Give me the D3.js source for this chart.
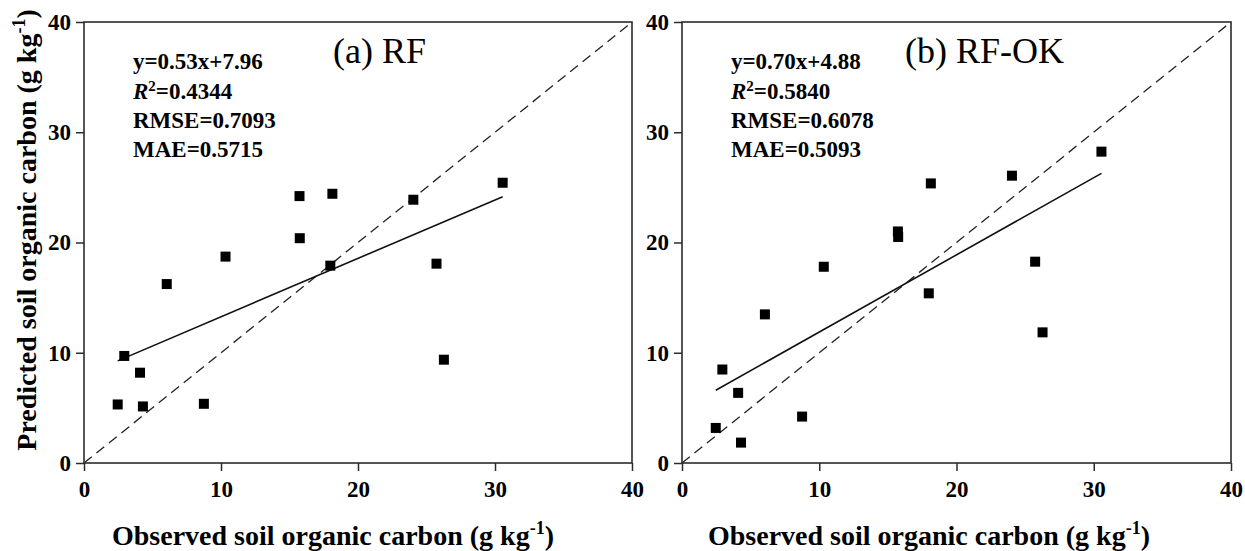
<!DOCTYPE html>
<html>
<head>
<meta charset="utf-8">
<script src="https://cdn.jsdelivr.net/npm/d3@7"></script>
<style>
  html, body { margin: 0; padding: 0; background: #fff; }
  svg { display: block; font-family: "Liberation Serif", "Times New Roman", Times, serif; }
</style>
</head>
<body>
<svg id="chart" width="1245" height="551"></svg>
<script>
// ---- Data ----
const observed      = [2.46, 2.94, 4.09, 4.30, 6.04, 8.75, 10.33, 15.73, 15.75, 17.98, 18.13, 24.04, 25.73, 26.27, 30.56];
const predictedRF   = [5.31, 9.71, 8.19, 5.13, 16.23, 5.37, 18.72, 24.21, 20.39, 17.90, 24.42, 23.88, 18.08, 9.37, 25.42];
const predictedRFOK = [3.18, 8.48, 6.36, 1.85, 13.48, 4.21, 17.80, 21.00, 20.50, 15.39, 25.36, 26.06, 18.26, 11.85, 28.24];
const xTicks = [0, 10, 20, 30, 40];
const yTicks = [0, 10, 20, 30, 40];
const panelTitles = ["(a) RF", "(b) RF-OK"];
const fitSlope = [0.53, 0.70];
const fitIntercept = [7.96, 4.88];
const fitLabels = ["y=0.53x+7.96", "y=0.70x+4.88"];
const r2Labels = ["0.4344", "0.5840"];
const rmseLabels = ["0.7093", "0.6078"];
const maeLabels = ["0.5715", "0.5093"];
const xTitle = "Observed soil organic carbon (g kg";
const yTitle = "Predicted soil organic carbon (g kg";

// ---- Layout ----
const svg = d3.select("#chart");
svg.append("rect").attr("width", 1245).attr("height", 551).attr("fill", "#fff");

const panels = [
  { x0: 84,  x1: 632,  pred: predictedRF,   titleX: 333, xTitleCx: 333 },
  { x0: 682, x1: 1231, pred: predictedRFOK, titleX: 905, xTitleCx: 929 }
];
const yTop = 22, yBot = 463;
const frameColor = "#2b2b2b";

panels.forEach((p, i) => {
  const x = d3.scaleLinear().domain([0, 40]).range([p.x0, p.x1]);
  const y = d3.scaleLinear().domain([0, 40]).range([yBot, yTop]);
  const g = svg.append("g");

  // 1:1 dashed line
  g.append("line")
    .attr("x1", x(0)).attr("y1", y(0)).attr("x2", x(40)).attr("y2", y(40))
    .attr("stroke", "#222").attr("stroke-width", 1.3).attr("stroke-dasharray", "10,6");

  // regression line
  const xmin = d3.min(observed), xmax = d3.max(observed);
  g.append("line")
    .attr("x1", x(xmin)).attr("y1", y(fitSlope[i] * xmin + fitIntercept[i]))
    .attr("x2", x(xmax)).attr("y2", y(fitSlope[i] * xmax + fitIntercept[i]))
    .attr("stroke", "#111").attr("stroke-width", 1.6);

  // points
  const s = 10;
  g.selectAll("rect.pt").data(observed.map((o, k) => [o, p.pred[k]]))
    .enter().append("rect").attr("class", "pt")
    .attr("x", d => x(d[0]) - s / 2).attr("y", d => y(d[1]) - s / 2)
    .attr("width", s).attr("height", s).attr("fill", "#000");

  // frame
  g.append("rect")
    .attr("x", p.x0).attr("y", yTop).attr("width", p.x1 - p.x0).attr("height", yBot - yTop)
    .attr("fill", "none").attr("stroke", frameColor).attr("stroke-width", 1.6);

  // axes
  const ax = g.append("g").attr("transform", `translate(0,${yBot})`)
    .call(d3.axisBottom(x).tickValues(xTicks).tickSize(8).tickPadding(10).tickFormat(d3.format("d")));
  const ay = g.append("g").attr("transform", `translate(${p.x0},0)`)
    .call(d3.axisLeft(y).tickValues(yTicks).tickSize(8).tickPadding(5).tickFormat(d3.format("d")));
  [ax, ay].forEach(a => {
    a.select(".domain").remove();
    a.selectAll(".tick line").attr("stroke", frameColor).attr("stroke-width", 1.5);
    a.selectAll(".tick text").attr("fill", "#000").style("font-family", '"Liberation Serif", "Times New Roman", serif')
      .style("font-size", "23px").style("font-weight", "bold");
  });

  // panel title
  g.append("text").attr("x", p.titleX).attr("y", 63)
    .style("font-size", "36px").attr("fill", "#000").text(panelTitles[i]);

  // stats
  const sx = p.x0 + 49;
  const st = g.append("g").style("font-size", "23px").style("font-weight", "bold").attr("fill", "#000");
  st.append("text").attr("x", sx).attr("y", 69).text(fitLabels[i]);
  const r2t = st.append("text").attr("x", sx).attr("y", 98.5);
  r2t.append("tspan").style("font-style", "italic").text("R");
  r2t.append("tspan").attr("dy", -8).style("font-size", "15px").text("2");
  r2t.append("tspan").attr("dy", 8).text("=" + r2Labels[i]);
  st.append("text").attr("x", sx).attr("y", 128).text("RMSE=" + rmseLabels[i]);
  st.append("text").attr("x", sx).attr("y", 157).text("MAE=" + maeLabels[i]);

  // x-axis title
  const xt = g.append("text").attr("x", p.xTitleCx).attr("y", 545).attr("text-anchor", "middle")
    .style("font-size", "28px").style("font-weight", "bold").attr("fill", "#000");
  xt.append("tspan").text(xTitle);
  xt.append("tspan").attr("dy", -11).style("font-size", "18px").text("-1");
  xt.append("tspan").attr("dy", 11).text(")");
});

// y-axis title
const yt = svg.append("text")
  .attr("transform", "translate(36,230) rotate(-90)")
  .attr("text-anchor", "middle")
  .style("font-size", "28px").style("font-weight", "bold").attr("fill", "#000");
yt.append("tspan").text(yTitle);
yt.append("tspan").attr("dy", -11).style("font-size", "18px").text("-1");
yt.append("tspan").attr("dy", 11).text(")");
</script>
</body>
</html>
